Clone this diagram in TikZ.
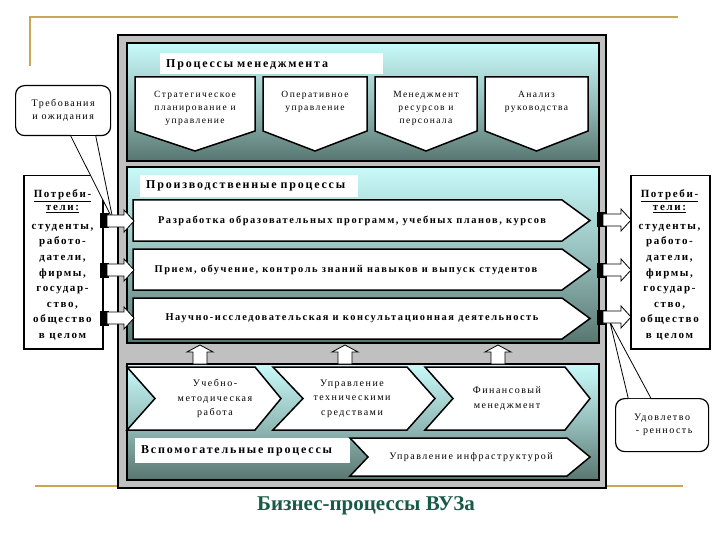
\documentclass[tikz,border=0pt]{standalone}
\usepackage{fontspec}
\setmainfont{Liberation Serif}
\newfontfamily\lsfont[LetterSpace=15]{Liberation Serif}
\usetikzlibrary{calc}
\definecolor{gold}{RGB}{200,168,88}
\definecolor{framegray}{RGB}{192,192,192}
\definecolor{pcyan}{RGB}{200,250,250}
\definecolor{pdark}{RGB}{88,118,112}
\definecolor{capgreen}{RGB}{25,90,70}
\tikzset{
  panel/.style={draw, line width=1.8pt, top color=pcyan, bottom color=pdark, middle color=pcyan!55!pdark},
  whiteshape/.style={draw, fill=white, line width=1.5pt, line join=miter},
  titlelbl/.style={fill=white, anchor=north west, inner xsep=6pt, inner ysep=0pt, align=left,
     font=\lsfont\bfseries\fontsize{12}{14}\selectfont},
  mgtxt/.style={align=center, inner sep=0pt, font=\lsfont\fontsize{9.5}{13}\selectfont},
  prodtxt/.style={inner sep=0pt, font=\lsfont\bfseries\fontsize{10.4}{12}\selectfont},
  suptxt/.style={align=center, inner sep=0pt, font=\lsfont\fontsize{10}{14.5}\selectfont},
  sidebox/.style={draw, fill=white, line width=1.5pt, minimum width=79pt, minimum height=173pt, anchor=north west},
  sidetxt/.style={align=center, inner sep=0pt, font=\lsfont\bfseries\fontsize{11}{15.6}\selectfont},
  callout/.style={draw, fill=white, line width=1.2pt, rounded corners=9pt, align=center,
     font=\lsfont\fontsize{10}{13}\selectfont},
  ptr/.style={draw, fill=white, line width=0.8pt},
  blk/.style={fill=black},
  barrow/.style={draw, fill=white, line width=0.8pt},
}
\newcommand{\mgbox}[5]{%
  \draw[whiteshape] (#1,77) -- (#2,77) -- (#2,131) -- ({(#1+#2)/2},151) -- (#1,131) -- cycle;
  \node[mgtxt] (#3) at ({(#1+#2)/2},#4) {#5};}
\newcommand{\leftarr}[1]{%
  \fill[blk] (100,#1-7.5) rectangle (109,#1+7.5);
  \draw[barrow] (107,#1-6) -- (124,#1-6) -- (124,#1-11) -- (134,#1) -- (124,#1+11) -- (124,#1+6) -- (107,#1+6) -- cycle;}
\newcommand{\rightarr}[1]{%
  \fill[blk] (597,#1-7.5) rectangle (605,#1+7.5);
  \draw[barrow] (603,#1-6) -- (621,#1-6) -- (621,#1-11) -- (631,#1) -- (621,#1+11) -- (621,#1+6) -- (603,#1+6) -- cycle;}
\newcommand{\uparr}[1]{%
  \draw[barrow] (#1-7,364) -- (#1-7,352) -- (#1-13,352) -- (#1,345) -- (#1+13,352) -- (#1+7,352) -- (#1+7,364) -- cycle;}
\begin{document}
\begin{tikzpicture}[x=1pt,y=-1pt]
\useasboundingbox (0,0) rectangle (720,540);
% golden decoration lines
\draw[gold, line width=1.6pt] (30,66) -- (30,17) -- (678,17);
\draw[gold, line width=1.6pt] (35,486) -- (683,486);
% outer frame
\draw[line width=2pt, fill=framegray] (118,35) rectangle (606,488);
% sections
\draw[panel] (127,43) rectangle (599,161);
\draw[panel] (127,167) rectangle (599,343);
\draw[panel] (127,364) rectangle (599,480);
% management
\node[titlelbl, text width=211pt, minimum height=21pt, text depth=0pt] (mgttitle) at (160,53) {Процессы менеджмента};
\mgbox{135}{255}{m1}{108}{Стратегическое\\планирование и\\управление}
\mgbox{263}{367}{m2}{102}{Оперативное\\управление}
\mgbox{375}{477}{m3}{108}{Менеджмент\\ресурсов и\\персонала}
\mgbox{485}{588}{m4}{102}{Анализ\\руководства}
% production
\node[titlelbl, text width=206pt, minimum height=22pt] (prodtitle) at (140,175) {Производственные процессы};
\draw[whiteshape] (133,200) -- (562,200) -- (590,220.5) -- (562,241) -- (133,241) -- cycle;
\node[prodtxt] (p1) at (352,220.5) {Разработка образовательных программ, учебных планов, курсов};
\draw[whiteshape] (133,249) -- (562,249) -- (590,269.5) -- (562,290) -- (133,290) -- cycle;
\node[prodtxt] (p2) at (346,269.5) {Прием, обучение, контроль знаний навыков и выпуск студентов};
\draw[whiteshape] (133,298) -- (562,298) -- (590,318.5) -- (562,339) -- (133,339) -- cycle;
\node[prodtxt] (p3) at (352,318.5) {Научно-исследовательская и консультационная деятельность};
% support
\uparr{200}\uparr{345}\uparr{498}
\draw[whiteshape] (127,367) -- (255,367) -- (281,398.5) -- (255,430) -- (127,430) -- (155,398.5) -- cycle;
\node[suptxt] (s1) at (215,398.5) {Учебно-\\методическая\\работа};
\draw[whiteshape] (273,367) -- (407,367) -- (435,398.5) -- (407,430) -- (273,430) -- (303,398.5) -- cycle;
\node[suptxt] (s2) at (352,398.5) {Управление\\техническими\\средствами};
\draw[whiteshape] (425,367) -- (565,367) -- (590,398.5) -- (565,430) -- (425,430) -- (453,398.5) -- cycle;
\node[suptxt] (s3) at (507,398.5) {Финансовый\\менеджмент};
\node[titlelbl, text width=203pt, minimum height=25pt] (suptitle) at (135,438) {Вспомогательные процессы};
\draw[whiteshape] (350,438) -- (567,438) -- (590,457) -- (567,476) -- (350,476) -- (368,457) -- cycle;
\node[suptxt] (s4) at (471,457) {Управление инфраструктурой};
% side boxes
\node[sidebox] (lbox) at (23,175) {};
\node[sidetxt, anchor=north] (ltxt) at (62.5,189) {\underline{Потреби-}\\[-2pt]\underline{тели:}\\[3pt]студенты,\\работо-\\датели,\\фирмы,\\государ-\\ство,\\общество\\в целом};
\node[sidebox] (rbox) at (630,175) {};
\node[sidetxt, anchor=north] (rtxt) at (669.5,189) {\underline{Потреби-}\\[-2pt]\underline{тели:}\\[3pt]студенты,\\работо-\\датели,\\фирмы,\\государ-\\ство,\\общество\\в целом};
% callouts
\node[callout, minimum width=95pt, minimum height=50pt, anchor=north west] (req) at (15,85) {Требования\\и ожидания};
\coordinate (reqtip) at (113,220);
\path[ptr] ($(req.south west)!0.58!(req.south east)$) -- (reqtip) -- ($(req.south west)!0.84!(req.south east)$);
\fill[white] ($(req.south west)!0.58!(req.south east)+(0,-1.2)$) rectangle ($(req.south west)!0.84!(req.south east)+(0,-3)$);
\node[callout, minimum width=93pt, minimum height=53pt, anchor=north west] (sat) at (615,398) {Удовлетво\\\ - ренность};
\coordinate (sattip) at (610,322);
\path[ptr] ($(sat.north west)!0.14!(sat.north east)$) -- (sattip) -- ($(sat.north west)!0.38!(sat.north east)$);
\fill[white] ($(sat.north west)!0.14!(sat.north east)+(0,1.2)$) rectangle ($(sat.north west)!0.38!(sat.north east)+(0,3)$);
% side arrows
\leftarr{221}\leftarr{270}\leftarr{318}
\rightarr{220}\rightarr{270}\rightarr{317}
% caption
\node[font=\bfseries\fontsize{21}{24}\selectfont, text=capgreen] (cap) at (366,506) {Бизнес-процессы ВУЗа};
\end{tikzpicture}
\end{document}
